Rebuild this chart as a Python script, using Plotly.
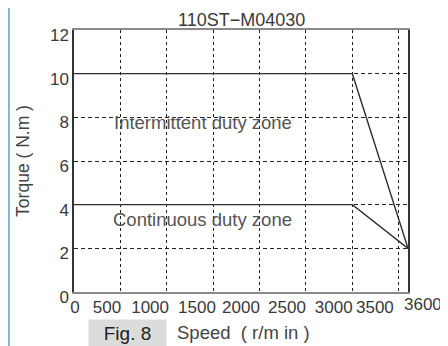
import plotly.graph_objects as go

# ---- data ----
speed_intermittent = [0, 3000, 3600]
torque_intermittent = [10, 10, 2]
speed_continuous = [0, 3000, 3600]
torque_continuous = [4, 4, 2]
x_tick_labels = ["0", "500", "1000", "1500", "2000", "2500", "3000", "3500", "3600"]
y_tick_values = [0, 2, 4, 6, 8, 10, 12]
x_grid_values = [500, 1000, 1500, 2000, 2500, 3000, 3500]
chart_title = "110ST\u2212M04030"
zone_labels = ["Intermittent duty zone", "Continuous duty zone"]

# ---- layout-only label positions (as drawn in the reference) ----
x_label_pos = [10, 355, 820, 1325, 1800, 2295, 2800, 3243]
last_label_paper_x = 1.045
zone_label_pos = [(1390, 7.75), (1390, 3.3)]

FONT = "Liberation Sans"
TXT = "#3a3a3a"
LINE = "#2e2e2e"

fig = go.Figure()
fig.add_trace(go.Scatter(x=speed_intermittent, y=torque_intermittent, mode="lines",
                         line=dict(color=LINE, width=1.4), showlegend=False, hoverinfo="skip"))
fig.add_trace(go.Scatter(x=speed_continuous, y=torque_continuous, mode="lines",
                         line=dict(color=LINE, width=1.4), showlegend=False, hoverinfo="skip"))

annotations = []
for (x, y), t in zip(zone_label_pos, zone_labels):
    annotations.append(dict(x=x, y=y, xref="x", yref="y", text=t, showarrow=False,
                            xanchor="center", yanchor="middle",
                            font=dict(family=FONT, size=18.5, color="#555555")))
# last x tick label sits outside the axis range
annotations.append(dict(x=last_label_paper_x, y=-0.046, xref="paper", yref="paper",
                        text=x_tick_labels[-1], showarrow=False, xanchor="center",
                        yanchor="middle", font=dict(family=FONT, size=17, color=TXT)))
annotations.append(dict(x=0.5, y=1.040, xref="paper", yref="paper", text=chart_title,
                        showarrow=False, xanchor="center", yanchor="middle",
                        font=dict(family=FONT, size=18, color=TXT)))
annotations.append(dict(x=-0.153, y=0.5, xref="paper", yref="paper", text="Torque ( N.m )",
                        textangle=-90, showarrow=False, xanchor="center", yanchor="middle",
                        font=dict(family=FONT, size=17.5, color="#444444")))
annotations.append(dict(x=0.160, y=-0.156, xref="paper", yref="paper", text="Fig. 8",
                        showarrow=False, bgcolor="#dcdcdc", width=75, height=24,
                        xanchor="center", yanchor="middle",
                        font=dict(family=FONT, size=19, color="#222222")))
annotations.append(dict(x=0.302, y=-0.156, xref="paper", yref="paper",
                        text="Speed\u00a0\u00a0(\u00a0r/m\u00a0in\u00a0)", xanchor="left",
                        yanchor="middle", showarrow=False,
                        font=dict(family=FONT, size=18.5, color="#444444")))

fig.update_layout(
    width=440, height=338, autosize=False,
    margin=dict(l=66, r=40, t=22, b=54),
    paper_bgcolor="white", plot_bgcolor="white",
    annotations=annotations,
    shapes=[dict(type="line", xref="paper", yref="paper", x0=-0.195, x1=-0.195,
                 y0=-0.25, y1=1.2, line=dict(color="#7fb2d8", width=2))],
    xaxis=dict(range=[0, 3600], showline=True, linecolor="#8a8a8a", linewidth=2, mirror=True,
               tickmode="array", tickvals=x_label_pos, ticktext=x_tick_labels[:-1],
               ticks="", showgrid=False, zeroline=False, ticklabelstandoff=-1,
               tickfont=dict(family=FONT, size=17, color=TXT),
               minor=dict(tickmode="array", tickvals=x_grid_values, showgrid=True,
                          gridcolor="#222222", gridwidth=1, griddash="3px,3px", ticks="")),
    yaxis=dict(range=[0, 12], showline=True, linecolor="#333333", linewidth=1.5, mirror=True,
               tickmode="array", tickvals=y_tick_values, ticks="",
               showgrid=True, gridcolor="#222222", gridwidth=1, griddash="4px,3px",
               zeroline=False, ticklabelshift=5,
               tickfont=dict(family=FONT, size=17, color=TXT)),
)

fig.write_html("out.html")
